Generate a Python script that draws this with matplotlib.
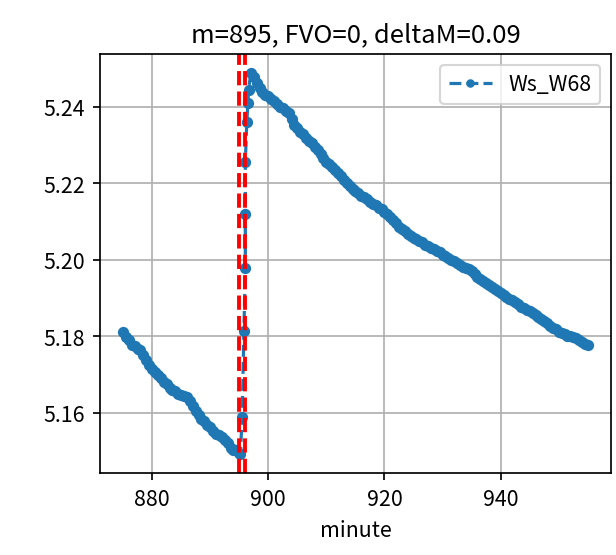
import matplotlib
matplotlib.use("Agg")
import matplotlib.pyplot as plt

plt.rcParams['font.family'] = ['Noto Sans CJK SC', 'DejaVu Sans']
plt.rcParams['axes.unicode_minus'] = False

# segment before the jump (minute, value)
x_pre = [875.0, 875.5, 876.0, 876.5, 877.0, 877.5, 878.0, 878.5, 879.0, 879.5,
         880.0, 880.5, 881.0, 881.5, 882.0, 882.5, 883.0, 883.5, 884.0, 884.5,
         885.0, 885.5, 886.0, 886.5, 887.0, 887.5, 888.0, 888.5, 889.0, 889.5,
         890.0, 890.5, 891.0, 891.5, 892.0, 892.5, 893.0, 893.5, 894.0, 894.5,
         895.0]
y_pre = [5.1812, 5.1798, 5.1790, 5.1778, 5.1774, 5.1766, 5.1764, 5.1752, 5.1738, 5.1726,
         5.1716, 5.1708, 5.1698, 5.1692, 5.1680, 5.1676, 5.1666, 5.1660, 5.1656, 5.1650,
         5.1648, 5.1644, 5.1642, 5.1630, 5.1618, 5.1606, 5.1594, 5.1584, 5.1578, 5.1568,
         5.1562, 5.1552, 5.1544, 5.1542, 5.1536, 5.1530, 5.1522, 5.1508, 5.1504, 5.1502,
         5.1495]

# the jump
x_jump = [895.2, 895.5, 895.8, 896.05, 896.05, 896.05, 896.3, 896.5, 896.6]
y_jump = [5.1492, 5.1590, 5.1813, 5.1980, 5.2120, 5.2255, 5.2360, 5.2410, 5.2445]

# segment after the jump
x_post = [897.0, 897.5, 898.0, 898.5, 899.0, 899.5, 900.0, 900.5, 901.0, 901.5,
          902.0, 902.5, 903.0, 903.5, 904.0, 904.5, 905.0, 905.5, 906.0, 906.5,
          907.0, 907.5, 908.0, 908.5, 909.0, 909.5, 910.0, 910.5, 911.0, 911.5,
          912.0, 912.5, 913.0, 913.5, 914.0, 914.5, 915.0, 915.5, 916.0, 916.5,
          917.0, 917.5, 918.0, 918.5, 919.0, 919.5, 920.0, 920.5, 921.0, 921.5,
          922.0, 922.5, 923.0, 923.5, 924.0, 924.5, 925.0, 925.5, 926.0, 926.5,
          927.0, 927.5, 928.0, 928.5, 929.0, 929.5, 930.0, 930.5, 931.0, 931.5,
          932.0, 932.5, 933.0, 933.5, 934.0, 934.5, 935.0, 935.5, 936.0, 936.5,
          937.0, 937.5, 938.0, 938.5, 939.0, 939.5, 940.0, 940.5, 941.0, 941.5,
          942.0, 942.5, 943.0, 943.5, 944.0, 944.5, 945.0, 945.5, 946.0, 946.5,
          947.0, 947.5, 948.0, 948.5, 949.0, 949.5, 950.0, 950.5, 951.0, 951.5,
          952.0, 952.5, 953.0, 953.5, 954.0, 954.5, 955.0]
y_post = [5.2488, 5.2478, 5.2462, 5.2450, 5.2440, 5.2432, 5.2427, 5.2420, 5.2414, 5.2408,
          5.2400, 5.2396, 5.2390, 5.2384, 5.2368, 5.2352, 5.2344, 5.2334, 5.2328, 5.2318,
          5.2310, 5.2306, 5.2296, 5.2288, 5.2276, 5.2266, 5.2256, 5.2250, 5.2242, 5.2234,
          5.2226, 5.2220, 5.2210, 5.2202, 5.2194, 5.2186, 5.2180, 5.2174, 5.2168, 5.2164,
          5.2158, 5.2152, 5.2146, 5.2144, 5.2136, 5.2132, 5.2126, 5.2120, 5.2112, 5.2104,
          5.2096, 5.2087, 5.2080, 5.2076, 5.2068, 5.2062, 5.2058, 5.2054, 5.2048, 5.2046,
          5.2040, 5.2036, 5.2032, 5.2028, 5.2022, 5.2020, 5.2014, 5.2010, 5.2006, 5.2000,
          5.1996, 5.1992, 5.1986, 5.1982, 5.1978, 5.1976, 5.1970, 5.1962, 5.1956, 5.1950,
          5.1944, 5.1940, 5.1934, 5.1928, 5.1924, 5.1918, 5.1914, 5.1908, 5.1902, 5.1898,
          5.1894, 5.1890, 5.1884, 5.1878, 5.1874, 5.1870, 5.1866, 5.1860, 5.1856, 5.1850,
          5.1845, 5.1840, 5.1835, 5.1828, 5.1822, 5.1818, 5.1812, 5.1808, 5.1805, 5.1802,
          5.1800, 5.1798, 5.1796, 5.1790, 5.1786, 5.1781, 5.1778]

event_lines = [895, 896]
title = "m=895, FVO=0, deltaM=0.09"
series_name = "Ws_W68"

x = x_pre + x_jump + x_post
y = y_pre + y_jump + y_post

fig = plt.figure(figsize=(4.0, 3.61), dpi=154)
ax = fig.add_axes([0.162, 0.147, 0.830, 0.754])
ax.plot(x, y, '.--', color='#1f77b4', label=series_name, markersize=8.5)
for v in event_lines:
    ax.axvline(v, color='red', linestyle='--', linewidth=1.8)
ax.set_xticks([880, 900, 920, 940])
ax.set_yticks([5.16, 5.18, 5.20, 5.22, 5.24])
ax.set_yticklabels(['5.16', '5.18', '5.20', '5.22', '5.24'])
ax.grid(True)
ax.set_xlabel('minute')
ax.set_title(title)
ax.legend(loc='upper right', markerscale=0.7)
fig.savefig('out.png', dpi=154)
